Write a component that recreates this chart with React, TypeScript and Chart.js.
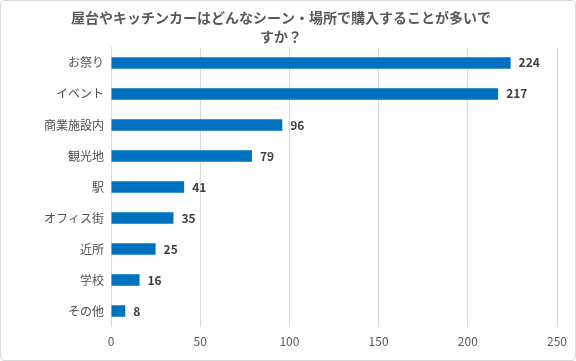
import React, { useEffect, useRef } from "react";
import { Chart, registerables } from "chart.js";

Chart.register(...registerables);

const titleLines = ["屋台やキッチンカーはどんなシーン・場所で購入することが多いで", "すか？"];
const categories = ["お祭り", "イベント", "商業施設内", "観光地", "駅", "オフィス街", "近所", "学校", "その他"];
const counts = [224, 217, 96, 79, 41, 35, 25, 16, 8];
const xTicks = [0, 50, 100, 150, 200, 250];

const FONT = "'Noto Sans CJK JP', 'Noto Sans', sans-serif";

const valueLabels = {
  id: "valueLabels",
  afterDatasetsDraw(chart: any) {
    const ctx = chart.ctx;
    const meta = chart.getDatasetMeta(0);
    const data = chart.data.datasets[0].data;
    ctx.save();
    ctx.font = `bold 12px ${FONT}`;
    ctx.fillStyle = "#404040";
    ctx.textAlign = "left";
    ctx.textBaseline = "middle";
    meta.data.forEach((el: any, i: number) => {
      ctx.fillText(String(data[i]), el.x + 8, el.y);
    });
    ctx.restore();
  },
};

export default function App() {
  const ref = useRef<HTMLCanvasElement | null>(null);
  useEffect(() => {
    document.body.style.margin = "0";
    const chart = new Chart(ref.current!, {
      type: "bar",
      data: {
        labels: categories,
        datasets: [
          {
            data: counts,
            backgroundColor: "#0070C0",
            barPercentage: 0.37,
            categoryPercentage: 1,
          },
        ],
      },
      options: {
        indexAxis: "y",
        animation: false,
        responsive: true,
        maintainAspectRatio: false,
        layout: { padding: { left: 0, right: 14, top: 0, bottom: 3 } },
        plugins: {
          legend: { display: false },
          tooltip: { enabled: false },
          title: {
            display: true,
            text: titleLines,
            color: "#595959",
            font: { family: FONT, size: 14, weight: "bold", lineHeight: 1.3 },
            padding: { top: 8, bottom: 2 },
          },
        },
        scales: {
          x: {
            min: 0,
            max: 250,
            afterBuildTicks: (s: any) => {
              s.ticks = xTicks.map((v) => ({ value: v }));
            },
            grid: { color: "#d9d9d9", drawTicks: false },
            border: { display: false },
            ticks: { color: "#595959", font: { family: FONT, size: 12 }, padding: 8 },
          },
          y: {
            afterFit: (s: any) => {
              s.width = 110;
            },
            grid: { display: false, drawTicks: false },
            border: { display: true, color: "#d9d9d9" },
            ticks: { color: "#505050", font: { family: FONT, size: 12 }, padding: 7 },
          },
        },
      },
      plugins: [valueLabels],
    });
    return () => chart.destroy();
  }, []);
  return (
    <div
      style={{
        width: 576,
        height: 361,
        boxSizing: "border-box",
        border: "1px solid #d9d9d9",
        borderRadius: 4,
        position: "relative",
        background: "#fff",
      }}
    >
      <canvas ref={ref} />
    </div>
  );
}
